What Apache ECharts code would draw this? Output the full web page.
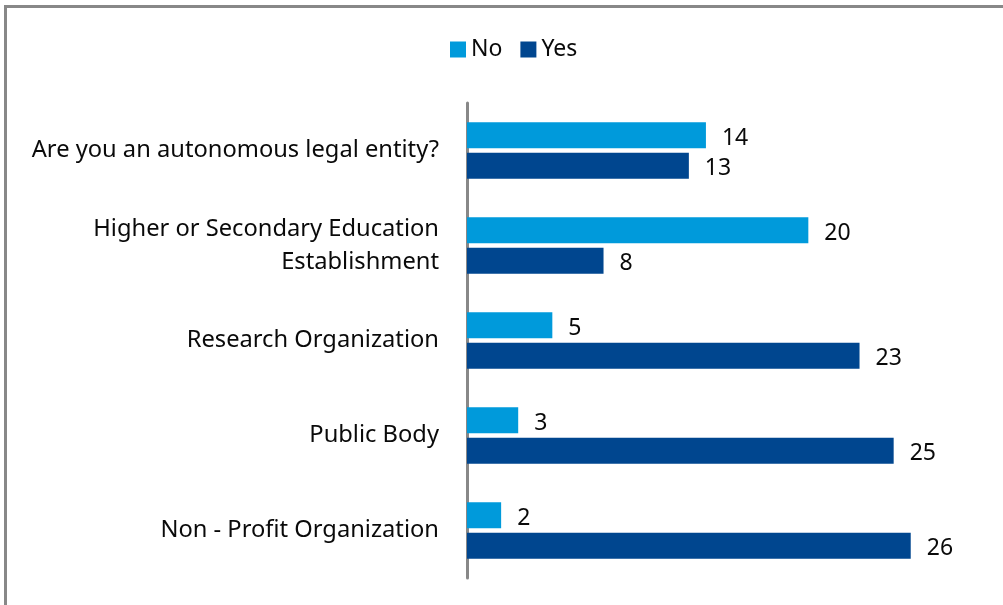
<!DOCTYPE html>
<html>
<head>
<meta charset="utf-8">
<script src="https://cdn.jsdelivr.net/npm/echarts@6/dist/echarts.min.js"></script>
<style>
html,body{margin:0;padding:0;background:#fff;}
#wrap{position:relative;width:1003px;height:605px;overflow:hidden;}
#chart{position:absolute;left:0;top:0;width:1003px;height:605px;}
#frame{position:absolute;left:4px;top:5px;width:1100px;height:700px;border-left:3px solid #888;border-top:3px solid #888;pointer-events:none;}
</style>
</head>
<body>
<div id="wrap"><div id="chart"></div><div id="frame"></div></div>
<script>
const categories = [
  "Are you an autonomous legal entity?",
  "Higher or Secondary Education\nEstablishment",
  "Research Organization",
  "Public Body",
  "Non - Profit Organization"
];
const seriesNames = ["No", "Yes"];
const noValues = [14, 20, 5, 3, 2];
const yesValues = [13, 8, 23, 25, 26];
const colors = ["#009ADB", "#00468F"];

const FONT = "Noto Sans";
const chart = echarts.init(document.getElementById('chart'), null, {renderer: 'canvas'});
const labelStyle = {show: true, position: 'right', distance: 16, offset: [0, 3], color: '#0a0a0a', fontSize: 23, fontFamily: FONT};
chart.setOption({
  animation: false,
  textStyle: {fontFamily: FONT},
  legend: {
    data: seriesNames,
    top: 33,
    left: 445,
    itemWidth: 16,
    itemHeight: 16,
    itemGap: 18,
    icon: 'rect',
    textStyle: {fontSize: 23, color: '#0a0a0a', fontFamily: FONT}
  },
  grid: {left: 467, right: 24, top: 103, bottom: 27, containLabel: false},
  xAxis: {
    type: 'value', min: 0, max: 30, show: false
  },
  yAxis: {
    type: 'category',
    data: categories,
    inverse: true,
    axisLine: {show: true, lineStyle: {color: '#888', width: 3}},
    axisTick: {show: false},
    axisLabel: {fontSize: 23.7, color: '#0a0a0a', fontFamily: FONT, margin: 28, lineHeight: 33, align: 'right'}
  },
  series: [
    {name: seriesNames[0], type: 'bar', data: noValues, barWidth: 26, barGap: '17%',
     itemStyle: {color: colors[0]}, label: labelStyle},
    {name: seriesNames[1], type: 'bar', data: yesValues, barWidth: 26, barGap: '17%',
     itemStyle: {color: colors[1]}, label: labelStyle}
  ]
});
</script>
</body>
</html>
